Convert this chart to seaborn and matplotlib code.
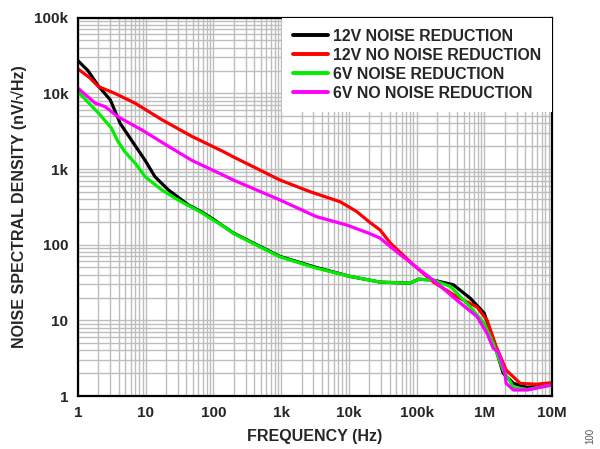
import numpy as np
import pandas as pd
import matplotlib
matplotlib.use("Agg")
import matplotlib.pyplot as plt
import seaborn as sns
from matplotlib.ticker import LogLocator, FixedLocator, FixedFormatter, NullFormatter

# ---- data ----
f_12nr = [1, 1.4, 2, 3, 4.2, 6.6, 9.8, 13.7, 21.6, 42.7, 70, 105, 196, 960, 3300, 10500, 29000,
          80000, 107000, 178000, 350000, 620000, 1.0e6, 1.35e6, 1.9e6, 2.7e6, 4.3e6, 1.0e7]
v_12nr = [27000, 20000, 12500, 8200, 4000, 2200, 1300, 790, 530, 335, 265, 210, 143, 70, 50,
          38, 32, 31, 35, 34, 29.5, 19.6, 12.4, 5.5, 2.0, 1.47, 1.3, 1.4]

f_12nnr = [1, 1.5, 2, 3.5, 7, 17.2, 48, 140, 196, 960, 2700, 7400, 13000, 20000, 29000, 41000,
           90000, 178000, 390000, 780000, 1.1e6, 1.5e6, 2.1e6, 3.4e6, 5.9e6, 1.0e7]
v_12nnr = [21000, 16000, 12300, 10000, 7400, 4500, 2700, 1700, 1450, 716, 500, 370, 275, 200,
           156, 105, 54, 32, 20.6, 15, 10, 4.5, 2.2, 1.47, 1.43, 1.5]

f_6nr = [1, 2, 3.1, 3.9, 4.9, 7, 9.8, 17.2, 30, 67, 100, 132, 196, 960, 3300, 10500, 29000,
         80000, 107000, 178000, 316000, 620000, 1.0e6, 1.35e6, 1.9e6, 2.7e6, 4.3e6, 1.0e7]
v_6nr = [10500, 5500, 3500, 2300, 1700, 1190, 790, 530, 390, 265, 210, 182, 141, 69, 49, 38,
         32, 31, 35, 34, 28, 15, 9.1, 5.0, 2.2, 1.3, 1.22, 1.4]

f_6nnr = [1, 1.8, 2.5, 3.9, 8.7, 21.6, 48, 140, 196, 960, 3300, 9300, 20000, 29000, 41000,
          90000, 200000, 390000, 780000, 1.1e6, 1.35e6, 1.6e6, 1.9e6, 2.0e6, 2.1e6, 2.7e6,
          4.3e6, 1.0e7]
v_6nnr = [11700, 7400, 6700, 4900, 3300, 2000, 1300, 830, 716, 390, 235, 182, 141, 122, 94,
          54, 31, 18.6, 11.2, 6.7, 4.3, 3.85, 2.44, 2.1, 1.47, 1.2, 1.2, 1.4]

series_names = ["12V NOISE REDUCTION", "12V NO NOISE REDUCTION",
                "6V NOISE REDUCTION", "6V NO NOISE REDUCTION"]
series_colors = ["#000000", "#ff0000", "#00ee00", "#ff00ff"]

x_ticks = [1, 10, 100, 1e3, 1e4, 1e5, 1e6, 1e7]
x_tick_labels = ["1", "10", "100", "1k", "10k", "100k", "1M", "10M"]
y_ticks = [1, 10, 100, 1e3, 1e4, 1e5]
y_tick_labels = ["1", "10", "100", "1k", "10k", "100k"]

frames = []
for name, fx, vy in zip(series_names, [f_12nr, f_12nnr, f_6nr, f_6nnr],
                        [v_12nr, v_12nnr, v_6nr, v_6nnr]):
    frames.append(pd.DataFrame({"freq": fx, "noise": vy, "series": name}))
df = pd.concat(frames, ignore_index=True)

# ---- drawing ----
sns.set_style("white")
plt.rcParams["font.family"] = ["Liberation Sans", "DejaVu Sans"]
plt.rcParams["font.weight"] = "bold"

fig = plt.figure(figsize=(6.0, 4.49), dpi=100)
ax = fig.add_axes([78 / 600, 53 / 449, 474 / 600, 378.3 / 449])

sns.lineplot(data=df, x="freq", y="noise", hue="series", hue_order=series_names,
             palette=series_colors, linewidth=2.3, sort=False, estimator=None, ax=ax,
             legend=True)

ax.set_xscale("log")
ax.set_yscale("log")
ax.set_xlim(1, 1e7)
ax.set_ylim(1, 1e5)

ax.xaxis.set_major_locator(FixedLocator(x_ticks))
ax.xaxis.set_major_formatter(FixedFormatter(x_tick_labels))
ax.yaxis.set_major_locator(FixedLocator(y_ticks))
ax.yaxis.set_major_formatter(FixedFormatter(y_tick_labels))
ax.xaxis.set_minor_locator(LogLocator(base=10, subs=np.arange(2, 10), numticks=20))
ax.yaxis.set_minor_locator(LogLocator(base=10, subs=np.arange(2, 10), numticks=20))
ax.xaxis.set_minor_formatter(NullFormatter())
ax.yaxis.set_minor_formatter(NullFormatter())

ax.grid(True, which="both", color="#bdbdbd", linewidth=1.0)
ax.set_axisbelow(True)
ax.tick_params(which="both", length=0, labelsize=11, pad=7)
for lab in ax.get_xticklabels() + ax.get_yticklabels():
    lab.set_fontweight("bold")

for s in ax.spines.values():
    s.set_color("black")
    s.set_linewidth(1.6)

ax.set_xlabel("FREQUENCY (Hz)", fontsize=11.5, fontweight="bold", labelpad=7)
ax.set_ylabel("NOISE SPECTRAL DENSITY (nV/\u221aHz)", fontsize=11.5, fontweight="bold",
              labelpad=5)

leg = ax.legend(loc="upper right", frameon=True, fontsize=11.4, handlelength=2.2,
                handletextpad=0.3, labelspacing=0.25, borderaxespad=0.0,
                borderpad=0.7, fancybox=False)
leg.get_frame().set_edgecolor("white")
leg.get_frame().set_facecolor("white")
leg.get_frame().set_alpha(1.0)
leg.get_frame().set_linewidth(0)
for t in leg.get_texts():
    t.set_fontweight("bold")
for h in leg.get_lines():
    h.set_linewidth(2.8)

fig.text(590 / 600, 1 - 436 / 449, "100", rotation=90, fontsize=7, color="#555555",
         ha="center", va="center", fontweight="normal")

fig.savefig("out.png", dpi=100)
